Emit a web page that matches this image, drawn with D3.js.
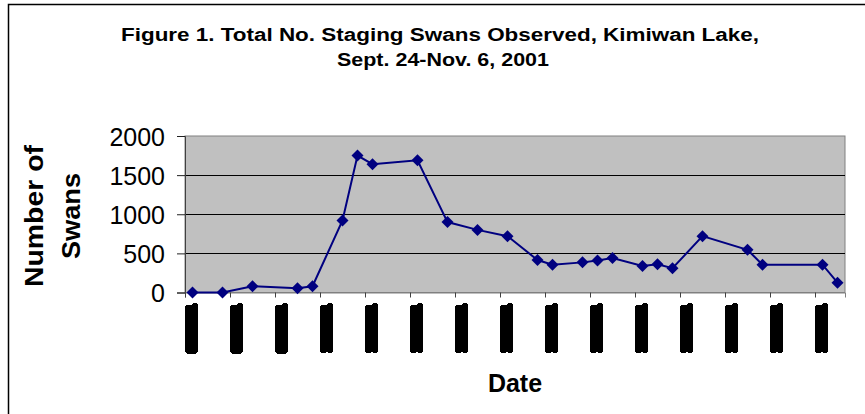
<!DOCTYPE html>
<html>
<head>
<meta charset="utf-8">
<script src="https://cdn.jsdelivr.net/npm/d3@7"></script>
<style>
  html, body { margin: 0; padding: 0; background: #fff; }
  svg { display: block; font-family: "Liberation Sans", Arial, sans-serif; }
</style>
</head>
<body>
<svg id="chart" width="865" height="414"></svg>
<script>
// Survey dates and swan counts
var surveyDates = ["2001-09-24", "2001-09-26", "2001-09-28", "2001-10-01", "2001-10-02",
    "2001-10-04", "2001-10-05", "2001-10-06", "2001-10-09", "2001-10-11",
    "2001-10-13", "2001-10-15", "2001-10-17", "2001-10-18", "2001-10-20",
    "2001-10-21", "2001-10-22", "2001-10-24", "2001-10-25", "2001-10-26",
    "2001-10-28", "2001-10-31", "2001-11-01", "2001-11-05", "2001-11-06"];
var swanCounts = [0, 0, 80, 55, 80,
    920, 1750, 1640, 1690, 900,
    800, 720, 415, 355, 385,
    410, 440, 340, 360, 310,
    720, 545, 355, 355, 125];
var yTicks = [0, 500, 1000, 1500, 2000];
var titleLines = ["Figure 1. Total No. Staging Swans Observed, Kimiwan Lake,", "Sept. 24-Nov. 6, 2001"];

var parseDay = d3.utcParse("%Y-%m-%d");
var fmtLabel = d3.utcFormat("%m/%d/%Y");

function renderChart() {
    let svg = d3.select('#chart');

    // the date labels print as solid black blocks in the original,
    // so fatten the glyphs into a box
    let filter = svg.append('defs').append('filter')
        .attr('id', 'blockify')
        .attr('x', '-50%').attr('y', '-100%')
        .attr('width', '200%').attr('height', '300%');
    filter.append('feComponentTransfer')
        .append('feFuncA')
        .attr('type', 'discrete')
        .attr('tableValues', '0 1 1 1');
    filter.append('feMorphology')
        .attr('operator', 'dilate')
        .attr('radius', '3 2.2');
    filter.append('feComponentTransfer')
        .append('feFuncA')
        .attr('type', 'discrete')
        .attr('tableValues', '0 1');

    // outer chart frame (only top and left edges fall inside the picture)
    svg.append('rect')
        .attr('x', 8.5).attr('y', 4.5)
        .attr('width', 900).attr('height', 500)
        .style('fill', 'none')
        .style('stroke', 'black')
        .style('stroke-width', 1.5);

    // title
    svg.selectAll('text.title')
        .data(titleLines)
        .enter()
        .append('text')
        .attr('class', 'title')
        .attr('x', function (d, i) { return i == 0 ? 121 : 337; })
        .attr('y', function (d, i) { return i == 0 ? 41 : 66; })
        .attr('textLength', function (d, i) { return i == 0 ? 638 : 212; })
        .attr('lengthAdjust', 'spacingAndGlyphs')
        .attr('font-size', 18)
        .style('font-weight', 'bold')
        .text(function (d) { return d; });

    let plotLeft = 185, plotRight = 845, plotTop = 136, plotBottom = 292.5;

    let start = parseDay(surveyDates[0]);
    let end = d3.utcDay.offset(parseDay(surveyDates[surveyDates.length - 1]), 1);

    let x = d3.scaleUtc().domain([start, end]).range([plotLeft, plotRight]);
    let y = d3.scaleLinear().domain([0, 2000]).range([plotBottom, plotTop]);

    // each count sits in the middle of its day
    let points = surveyDates.map(function (d, i) {
        return { date: d3.utcHour.offset(parseDay(d), 12), value: swanCounts[i] };
    });

    // plot area
    svg.append('rect')
        .attr('x', plotLeft).attr('y', plotTop)
        .attr('width', plotRight - plotLeft).attr('height', plotBottom - plotTop)
        .style('fill', '#c0c0c0')
        .style('stroke', '#808080')
        .style('stroke-width', 1);

    // gridlines
    svg.selectAll('line.grid')
        .data(yTicks.filter(function (d) { return d > 0 && d < 2000; }))
        .enter()
        .append('line')
        .attr('class', 'grid')
        .attr('x1', plotLeft).attr('x2', plotRight)
        .attr('y1', function (d) { return Math.round(y(d)) + 0.5; })
        .attr('y2', function (d) { return Math.round(y(d)) + 0.5; })
        .style('stroke', 'black')
        .style('stroke-width', 1);

    // y axis
    let yAxis = d3.axisLeft(y).tickValues(yTicks).tickSize(8).tickPadding(12)
        .tickFormat(d3.format('d'));
    let gy = svg.append('g')
        .attr('transform', 'translate(' + plotLeft + ',0)')
        .call(yAxis);
    gy.select('.domain').style('stroke', '#404040');
    gy.selectAll('.tick line').style('stroke', '#202020');
    gy.selectAll('.tick text')
        .attr('font-size', 25)
        .attr('fill', 'black')
        .attr('dy', '0.36em')
        .style('font-family', '"Liberation Sans", Arial, sans-serif');

    // x axis, ticks every third day
    let tickDates = d3.utcDay.range(start, end, 3);
    let xAxis = d3.axisBottom(x).tickValues(tickDates).tickSize(5).tickFormat(fmtLabel);
    let gx = svg.append('g')
        .attr('transform', 'translate(0,' + plotBottom + ')')
        .call(xAxis);
    gx.select('.domain').style('stroke', '#808080');
    gx.selectAll('.tick line').style('stroke', '#404040');
    gx.selectAll('.tick text')
        .attr('transform', 'rotate(-90)')
        .attr('x', -14)
        .attr('y', 9.5)
        .attr('dy', 0)
        .attr('text-anchor', 'end')
        .attr('textLength', 44)
        .attr('lengthAdjust', 'spacingAndGlyphs')
        .attr('font-size', 10)
        .attr('fill', 'black')
        .attr('filter', 'url(#blockify)')
        .style('font-family', '"Liberation Sans", Arial, sans-serif');

    // axis titles
    svg.append('text')
        .attr('transform', 'translate(43, 216) rotate(-90)')
        .attr('text-anchor', 'middle')
        .attr('font-size', 25)
        .attr('textLength', 142)
        .attr('lengthAdjust', 'spacingAndGlyphs')
        .style('font-weight', 'bold')
        .text('Number of');
    svg.append('text')
        .attr('transform', 'translate(80, 216) rotate(-90)')
        .attr('text-anchor', 'middle')
        .attr('font-size', 25)
        .attr('textLength', 86)
        .attr('lengthAdjust', 'spacingAndGlyphs')
        .style('font-weight', 'bold')
        .text('Swans');
    svg.append('text')
        .attr('x', (plotLeft + plotRight) / 2)
        .attr('y', 392)
        .attr('text-anchor', 'middle')
        .attr('font-size', 25)
        .style('font-weight', 'bold')
        .text('Date');

    // series line
    let line = d3.line()
        .x(function (d) { return x(d.date); })
        .y(function (d) { return y(d.value); });
    svg.append('path')
        .datum(points)
        .attr('d', line)
        .style('fill', 'none')
        .style('stroke', '#000080')
        .style('stroke-width', 2);

    // diamond markers
    let diamond = d3.symbol().type(d3.symbolSquare).size(72);
    svg.selectAll('path.marker')
        .data(points)
        .enter()
        .append('path')
        .attr('class', 'marker')
        .attr('d', diamond)
        .attr('transform', function (d) {
            return 'translate(' + x(d.date) + ',' + y(d.value) + ') rotate(45)';
        })
        .style('fill', '#000080');
}

renderChart();
</script>
</body>
</html>
